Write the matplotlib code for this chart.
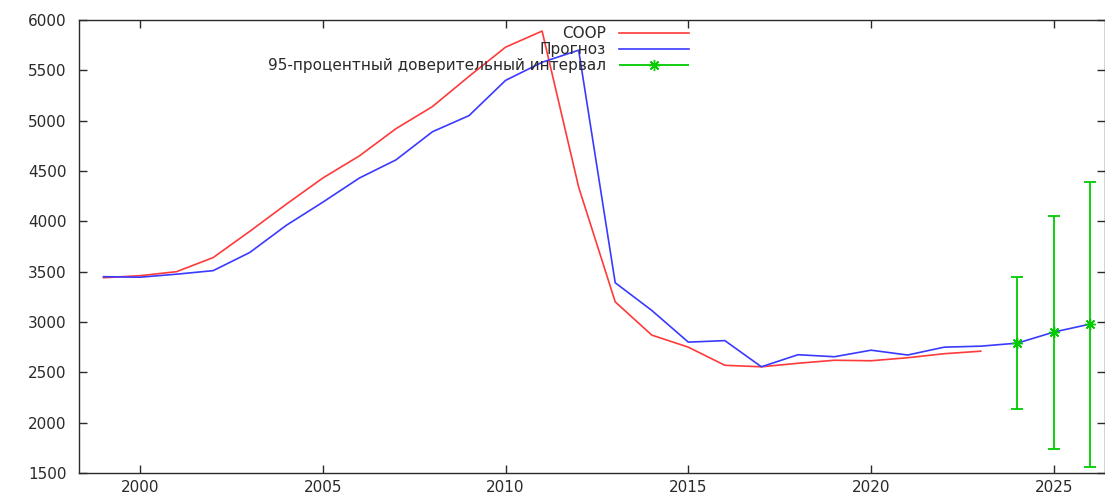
import numpy as np
import matplotlib
matplotlib.use('Agg')
import matplotlib.pyplot as plt
from matplotlib.legend_handler import HandlerErrorbar

# data
years_coop = list(range(1999, 2024))
coop = [3440, 3460, 3500, 3640, 3900, 4170, 4430, 4650, 4920, 5140,
        5440, 5730, 5890, 4340, 3200, 2870, 2750, 2570, 2555, 2590,
        2620, 2615, 2645, 2685, 2710]

years_prog = list(range(1999, 2027))
prognoz = [3450, 3445, 3475, 3510, 3690, 3960, 4190, 4430, 4610, 4890,
           5050, 5400, 5580, 5700, 3390, 3115, 2800, 2815, 2555, 2675,
           2655, 2720, 2672, 2750, 2760, 2790, 2900, 2980]

years_ci = [2024, 2025, 2026]
ci_mid = [2790, 2900, 2980]
ci_low = [2140, 1735, 1560]
ci_high = [3450, 4050, 4390]

labels = ['СООР', 'Прогноз', '95-процентный доверительный интервал']
x_ticks = [2000, 2005, 2010, 2015, 2020, 2025]
y_ticks = [1500, 2000, 2500, 3000, 3500, 4000, 4500, 5000, 5500, 6000]

red = '#ff3a3a'
blue = '#3a3aff'
green = '#00cc00'
dark = '#2a2a2a'
star = (8, 2, 0)  # gnuplot-like asterisk

plt.rcParams['font.family'] = ['DejaVu Sans']

fig = plt.figure(figsize=(11.05, 4.95), dpi=100)
ax = fig.add_axes([79 / 1105, 22 / 495, 1 - 79 / 1105, 453 / 495])

line_coop, = ax.plot(years_coop, coop, color=red, lw=1.2, label=labels[0])
line_prog, = ax.plot(years_prog, prognoz, color=blue, lw=1.2, label=labels[1])

ci_mid = np.array(ci_mid)
yerr = [ci_mid - np.array(ci_low), np.array(ci_high) - ci_mid]
ax.errorbar(years_ci, ci_mid, yerr=yerr, fmt='none', ecolor=green,
            elinewidth=1.3, capsize=4, capthick=1.3)
ax.plot(years_ci, ci_mid, linestyle='none', marker=star, ms=8,
        mec=green, mew=1.0, color=green)

# proxy so the legend shows a horizontal bar like gnuplot does
proxy = ax.errorbar([], [], xerr=[], marker=star, linestyle='none',
                    color=green, ecolor=green, elinewidth=1.3,
                    capsize=4, capthick=1.3, ms=8, mew=1.0)

ax.set_xlim(1998.33, 2026.4)
ax.set_ylim(1500, 6000)
ax.set_xticks(x_ticks)
ax.set_yticks(y_ticks)

ax.tick_params(direction='in', length=6, width=1, colors=dark,
               top=True, right=True, labelsize=11)
ax.tick_params(axis='x', pad=5)
ax.tick_params(axis='y', pad=9)
for s in ax.spines.values():
    s.set_color(dark)
    s.set_linewidth(1.0)

leg = ax.legend([line_coop, line_prog, proxy], labels,
                loc='upper right', bbox_to_anchor=(0.595, 0.987),
                frameon=False, markerfirst=False, fontsize=11,
                handlelength=4.6, handletextpad=0.85, labelspacing=0.08,
                borderpad=0, borderaxespad=0,
                handler_map={type(proxy): HandlerErrorbar(xerr_size=2.3)})
for t in leg.get_texts():
    t.set_color(dark)

fig.savefig('out.png', dpi=100)
